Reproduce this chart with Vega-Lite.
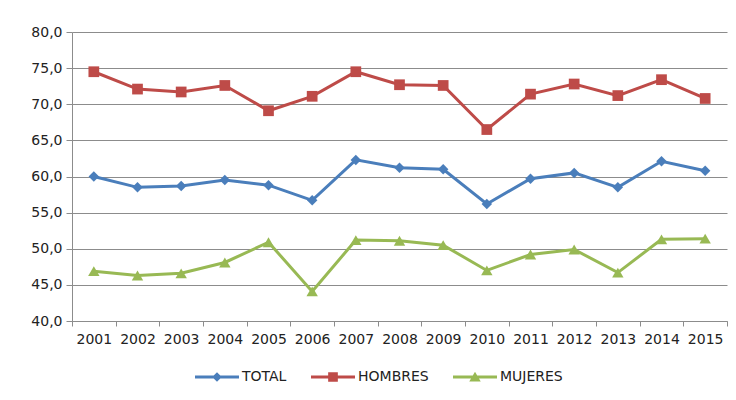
{
  "$schema": "https://vega.github.io/schema/vega-lite/v6.json",
  "width": 655,
  "height": 289,
  "autosize": {"type": "none"},
  "padding": {"left": 72, "top": 32, "right": 9, "bottom": 79},
  "background": "white",
  "config": {
    "view": {"stroke": null},
    "font": "DejaVu Sans"
  },
  "data": {
    "values": [
      {"year": "2001", "serie": "TOTAL", "value": 60.0},
      {"year": "2002", "serie": "TOTAL", "value": 58.5},
      {"year": "2003", "serie": "TOTAL", "value": 58.7},
      {"year": "2004", "serie": "TOTAL", "value": 59.5},
      {"year": "2005", "serie": "TOTAL", "value": 58.8},
      {"year": "2006", "serie": "TOTAL", "value": 56.7},
      {"year": "2007", "serie": "TOTAL", "value": 62.3},
      {"year": "2008", "serie": "TOTAL", "value": 61.2},
      {"year": "2009", "serie": "TOTAL", "value": 61.0},
      {"year": "2010", "serie": "TOTAL", "value": 56.2},
      {"year": "2011", "serie": "TOTAL", "value": 59.7},
      {"year": "2012", "serie": "TOTAL", "value": 60.5},
      {"year": "2013", "serie": "TOTAL", "value": 58.5},
      {"year": "2014", "serie": "TOTAL", "value": 62.1},
      {"year": "2015", "serie": "TOTAL", "value": 60.8},
      {"year": "2001", "serie": "HOMBRES", "value": 74.5},
      {"year": "2002", "serie": "HOMBRES", "value": 72.1},
      {"year": "2003", "serie": "HOMBRES", "value": 71.7},
      {"year": "2004", "serie": "HOMBRES", "value": 72.6},
      {"year": "2005", "serie": "HOMBRES", "value": 69.1},
      {"year": "2006", "serie": "HOMBRES", "value": 71.1},
      {"year": "2007", "serie": "HOMBRES", "value": 74.5},
      {"year": "2008", "serie": "HOMBRES", "value": 72.7},
      {"year": "2009", "serie": "HOMBRES", "value": 72.6},
      {"year": "2010", "serie": "HOMBRES", "value": 66.5},
      {"year": "2011", "serie": "HOMBRES", "value": 71.4},
      {"year": "2012", "serie": "HOMBRES", "value": 72.8},
      {"year": "2013", "serie": "HOMBRES", "value": 71.2},
      {"year": "2014", "serie": "HOMBRES", "value": 73.4},
      {"year": "2015", "serie": "HOMBRES", "value": 70.8},
      {"year": "2001", "serie": "MUJERES", "value": 46.9},
      {"year": "2002", "serie": "MUJERES", "value": 46.3},
      {"year": "2003", "serie": "MUJERES", "value": 46.6},
      {"year": "2004", "serie": "MUJERES", "value": 48.1},
      {"year": "2005", "serie": "MUJERES", "value": 50.9},
      {"year": "2006", "serie": "MUJERES", "value": 44.1},
      {"year": "2007", "serie": "MUJERES", "value": 51.2},
      {"year": "2008", "serie": "MUJERES", "value": 51.1},
      {"year": "2009", "serie": "MUJERES", "value": 50.5},
      {"year": "2010", "serie": "MUJERES", "value": 47.0},
      {"year": "2011", "serie": "MUJERES", "value": 49.2},
      {"year": "2012", "serie": "MUJERES", "value": 49.9},
      {"year": "2013", "serie": "MUJERES", "value": 46.7},
      {"year": "2014", "serie": "MUJERES", "value": 51.3},
      {"year": "2015", "serie": "MUJERES", "value": 51.4}
    ]
  },
  "encoding": {
    "x": {
      "field": "year",
      "type": "ordinal",
      "scale": {"type": "band", "paddingInner": 0, "paddingOuter": 0},
      "axis": {
        "title": null,
        "labelAngle": 0,
        "tickBand": "extent",
        "grid": false,
        "tickSize": 5,
        "labelPadding": 6,
        "labelFont": "DejaVu Sans",
        "labelFontSize": 14,
        "labelColor": "#222222",
        "domainColor": "#8c8c8c",
        "tickColor": "#8c8c8c"
      }
    },
    "y": {
      "field": "value",
      "type": "quantitative",
      "scale": {"domain": [40, 80], "nice": false, "zero": false},
      "axis": {
        "title": null,
        "values": [40, 45, 50, 55, 60, 65, 70, 75, 80],
        "labelExpr": "replace(format(datum.value, '.1f'), '.', ',')",
        "grid": true,
        "gridColor": "#8c8c8c",
        "domainColor": "#8c8c8c",
        "tickColor": "#8c8c8c",
        "tickSize": 6,
        "labelPadding": 4,
        "labelFont": "DejaVu Sans",
        "labelFontSize": 14,
        "labelColor": "#222222"
      }
    }
  },
  "layer": [
    {
      "mark": {"type": "line", "strokeWidth": 3},
      "encoding": {
        "color": {
          "field": "serie",
          "type": "nominal",
          "scale": {"range": ["#BE4B48", "#98B954", "#4A7EBB"]},
          "legend": null
        }
      }
    },
    {
      "transform": [{"filter": "datum.serie === 'TOTAL'"}],
      "mark": {"type": "point", "shape": "diamond", "filled": true, "opacity": 1, "size": 110},
      "encoding": {"color": {"field": "serie", "type": "nominal", "legend": null}}
    },
    {
      "transform": [{"filter": "datum.serie === 'HOMBRES'"}],
      "mark": {"type": "point", "shape": "square", "filled": true, "opacity": 1, "size": 115},
      "encoding": {"color": {"field": "serie", "type": "nominal", "legend": null}}
    },
    {
      "transform": [{"filter": "datum.serie === 'MUJERES'"}],
      "mark": {"type": "point", "shape": "triangle-up", "filled": true, "opacity": 1, "size": 130},
      "encoding": {"color": {"field": "serie", "type": "nominal", "legend": null}}
    },
    {
      "mark": {"type": "point", "filled": true, "size": 0, "strokeWidth": 0},
      "encoding": {
        "fill": {
          "field": "serie",
          "type": "nominal",
          "scale": {"domain": ["TOTAL", "HOMBRES", "MUJERES"], "range": ["#4A7EBB", "#BE4B48", "#98B954"]},
          "legend": {
            "title": null,
            "orient": "none",
            "legendX": 123,
            "legendY": 323,
            "direction": "horizontal",
            "symbolSize": 1936,
            "symbolOpacity": 1,
            "symbolStrokeWidth": 0,
            "labelFont": "DejaVu Sans",
            "labelFontSize": 14,
            "labelColor": "#222222",
            "labelOffset": 3,
            "columnPadding": 24
          }
        },
        "shape": {
          "field": "serie",
          "type": "nominal",
          "scale": {
            "domain": ["TOTAL", "HOMBRES", "MUJERES"],
            "range": [
              "M-1,-0.07H1V0.07H-1Z M0,-0.22L0.22,0L0,0.22L-0.22,0Z",
              "M-1,-0.07H1V0.07H-1Z M-0.22,-0.22H0.22V0.22H-0.22Z",
              "M-1,-0.07H1V0.07H-1Z M0,-0.24L0.26,0.2H-0.26Z"
            ]
          },
          "legend": {
            "title": null,
            "orient": "none",
            "legendX": 123,
            "legendY": 323,
            "direction": "horizontal",
            "symbolSize": 1936,
            "symbolOpacity": 1,
            "symbolStrokeWidth": 0,
            "labelFont": "DejaVu Sans",
            "labelFontSize": 14,
            "labelColor": "#222222",
            "labelOffset": 3,
            "columnPadding": 24
          }
        }
      }
    }
  ]
}
